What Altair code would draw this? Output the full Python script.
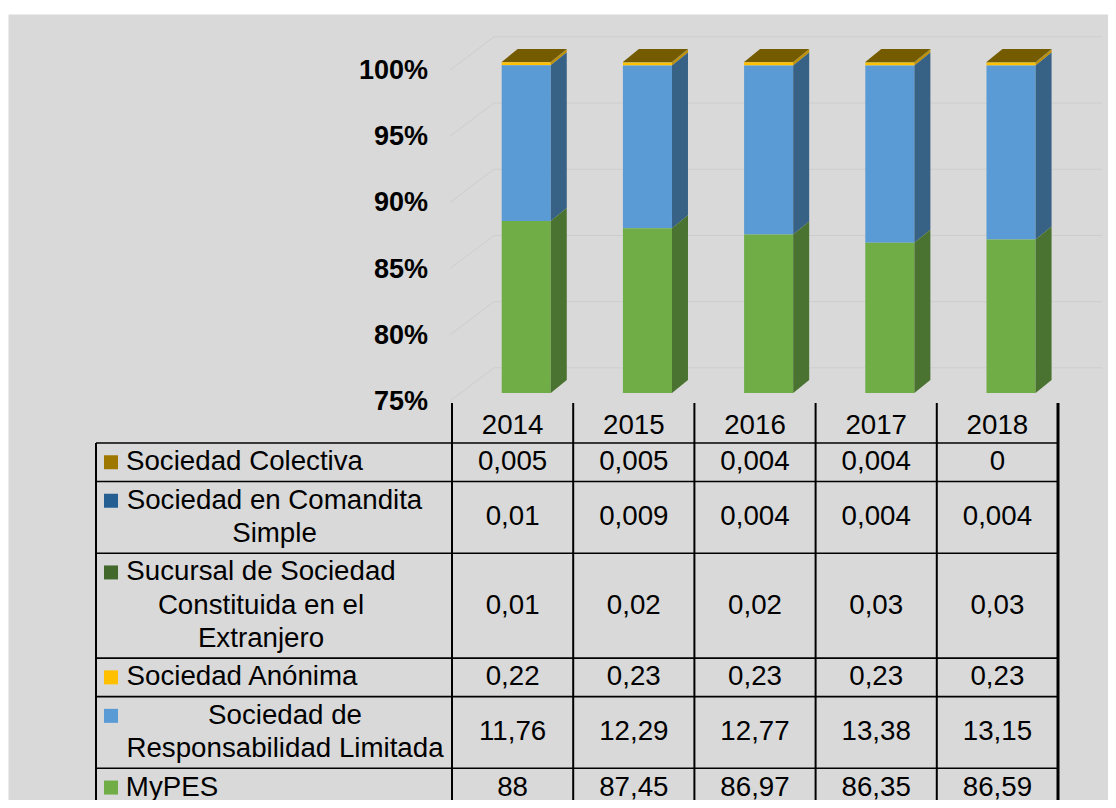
import altair as alt
import pandas as pd

# ---------------- data ----------------
YEARS = ["2014", "2015", "2016", "2017", "2018"]
SERIES = [
    "Sociedad Colectiva",
    "Sociedad en Comandita Simple",
    "Sucursal de Sociedad Constituida en el Extranjero",
    "Sociedad Anónima",
    "Sociedad de Responsabilidad Limitada",
    "MyPES",
]
LABELS = [
    "Sociedad Colectiva",
    "Sociedad en Comandita\nSimple",
    "Sucursal de Sociedad\nConstituida en el\nExtranjero",
    "Sociedad Anónima",
    "Sociedad de\nResponsabilidad Limitada",
    "MyPES",
]
COLECTIVA = [0.005, 0.005, 0.004, 0.004, 0]
COMANDITA = [0.01, 0.009, 0.004, 0.004, 0.004]
SUCURSAL = [0.01, 0.02, 0.02, 0.03, 0.03]
ANONIMA = [0.22, 0.23, 0.23, 0.23, 0.23]
SRL = [11.76, 12.29, 12.77, 13.38, 13.15]
MYPES = [88, 87.45, 86.97, 86.35, 86.59]
VALUES = [COLECTIVA, COMANDITA, SUCURSAL, ANONIMA, SRL, MYPES]
TICKS = [75, 80, 85, 90, 95, 100]

# ---------------- styles ----------------
FONT = "Liberation Sans"
FRONT_COLORS = ["#9e7700", "#255e91", "#43682b", "#ffc000", "#5b9bd5", "#70ad47"]
SIDE_COLORS = ["#6e5300", "#1a4266", "#2f491e", "#bf9000", "#386186", "#4a7230"]
TOP_COLOR = "#745b00"
GRID_COLOR = "#cdcdcd"
BG = "#d9d9d9"

# ---------------- layout ----------------
W, H = 1100, 786
LEFT, TOP = 8, 14
COL0, COLW = 452, 121.2


def u(px):
    return (px - COL0) / COLW


X_SCALE = alt.Scale(domain=[u(LEFT), u(LEFT + W)], nice=False, zero=False)
PX_PER_PCT = 331 / 25
BAR_TOP_PX = 62
D1 = 100 + (BAR_TOP_PX - TOP) / PX_PER_PCT
D0 = D1 - H / PX_PER_PCT
BAR_Y = alt.Scale(domain=[D0, D1], nice=False, zero=False)
TAB_Y = alt.Scale(domain=[TOP + H, TOP], nice=False, zero=False)

FRONT_L, FRONT_R, DEPTH = 0.41, 0.815, 0.132
DY = 13 / PX_PER_PCT
GRID_X = [u(450), u(494), u(1102)]
GRID_DY = [-0.6, 1.9, 1.9]

HEADER_TOP, HEADER_BOTTOM = 403, 443
PAD, LINE_H = 5.3, 33.2
TABLE_LEFT = 96
LABEL_CX = [244.5, 274.5, 261, 242, 285, 172]
MARKER_X = 111
FS = 27.7
FS_AXIS = 27

# ---------------- bar table ----------------
rows = []
for t, (s, vals) in enumerate(zip(SERIES, VALUES)):
    for i, (yr, v) in enumerate(zip(YEARS, vals)):
        rows.append({"year": yr, "yi": i, "series": s, "order": len(SERIES) - 1 - t, "value": v})
bars = pd.DataFrame(rows)

base = alt.Chart(bars).transform_stack(
    stack="value",
    groupby=["year"],
    sort=[alt.SortField(field="order", order="ascending")],
    offset="normalize",
    as_=["s0", "s1"],
).transform_calculate(
    lo="max(datum.s0 * 100, 75)",
    hi="max(datum.s1 * 100, 75)",
    xl=f"datum.yi + {FRONT_L}",
    xr=f"datum.yi + {FRONT_R}",
    key="datum.year + '|' + datum.series",
)

front = base.mark_rect().encode(
    x=alt.X("xl:Q", scale=X_SCALE, axis=None),
    x2="xr:Q",
    y=alt.Y("lo:Q", scale=BAR_Y, axis=None),
    y2="hi:Q",
    color=alt.Color("series:N", scale=alt.Scale(domain=SERIES, range=FRONT_COLORS), legend=None),
)

side = base.transform_calculate(p="[0, 1]").transform_flatten(["p"]).transform_calculate(
    xs=f"datum.yi + {FRONT_R} + datum.p * {DEPTH}",
    ys0=f"datum.lo + datum.p * {DY}",
    ys1=f"datum.hi + datum.p * {DY}",
).mark_area(orient="vertical").encode(
    x=alt.X("xs:Q", scale=X_SCALE, axis=None),
    y=alt.Y("ys0:Q", scale=BAR_Y, axis=None, stack=None),
    y2="ys1:Q",
    detail="key:N",
    color=alt.Color("series:N", scale=alt.Scale(domain=SERIES, range=SIDE_COLORS), legend=None),
)

topface = base.transform_filter(f"datum.order == {len(SERIES) - 1}").transform_calculate(
    p="[0, 1]"
).transform_flatten(["p"]).transform_calculate(
    yt=f"datum.hi + datum.p * {DY}",
    xt0=f"datum.yi + {FRONT_L} + datum.p * {DEPTH}",
    xt1=f"datum.yi + {FRONT_R} + datum.p * {DEPTH}",
).mark_area(orient="horizontal", color=TOP_COLOR).encode(
    y=alt.Y("yt:Q", scale=BAR_Y, axis=None),
    x=alt.X("xt0:Q", scale=X_SCALE, axis=None, stack=None),
    x2="xt1:Q",
    detail="year:N",
)

ticks_df = pd.DataFrame({"v": TICKS})
grid = alt.Chart(ticks_df).transform_calculate(p="[0, 1, 2]").transform_flatten(["p"]).transform_calculate(
    gx=f"[{GRID_X[0]}, {GRID_X[1]}, {GRID_X[2]}][datum.p]",
    gy=f"datum.v + [{GRID_DY[0]}, {GRID_DY[1]}, {GRID_DY[2]}][datum.p]",
).mark_line(color=GRID_COLOR, strokeWidth=1).encode(
    x=alt.X("gx:Q", scale=X_SCALE, axis=None),
    y=alt.Y("gy:Q", scale=BAR_Y, axis=None),
    detail="v:N",
    order="p:Q",
)

ylab = alt.Chart(ticks_df).transform_calculate(
    lab="datum.v + '%'", lx=str(u(428))
).mark_text(align="right", baseline="middle", font=FONT, fontSize=FS_AXIS, fontWeight="bold", color="black", dy=9).encode(
    x=alt.X("lx:Q", scale=X_SCALE, axis=None),
    y=alt.Y("v:Q", scale=BAR_Y, axis=None),
    text="lab:N",
)

# ---------------- data table ----------------
row_tops, row_bots = [], []
y = HEADER_BOTTOM
for lab in LABELS:
    n = lab.count("\n") + 1
    row_tops.append(y)
    y = y + PAD + LINE_H * n
    row_bots.append(y)

rowdf = pd.DataFrame({
    "series": SERIES,
    "label": LABELS,
    "cy": [(a + b) / 2 for a, b in zip(row_tops, row_bots)],
    "my": [(a + b) / 2 - (lab.count("\n")) * LINE_H / 2 for a, b, lab in zip(row_tops, row_bots, LABELS)],
    "lx": [u(c) for c in LABEL_CX],
    "mx": [u(MARKER_X)] * len(SERIES),
})

labels = alt.Chart(rowdf).mark_text(
    align="center", baseline="middle", font=FONT, fontSize=FS, color="black", lineBreak="\n", lineHeight=LINE_H
).encode(
    x=alt.X("lx:Q", scale=X_SCALE, axis=None),
    y=alt.Y("my:Q", scale=TAB_Y, axis=None),
    text="label:N",
)

markers = alt.Chart(rowdf).mark_square(size=196, opacity=1).encode(
    x=alt.X("mx:Q", scale=X_SCALE, axis=None),
    y=alt.Y("my:Q", scale=TAB_Y, axis=None),
    color=alt.Color("series:N", scale=alt.Scale(domain=SERIES, range=FRONT_COLORS), legend=None),
)

cells = bars.merge(rowdf[["series", "cy"]], on="series")
cells["xc"] = cells["yi"] + 0.5
values_txt = alt.Chart(cells).transform_calculate(
    txt="replace(toString(datum.value), '.', ',')"
).mark_text(align="center", baseline="middle", font=FONT, fontSize=FS, color="black").encode(
    x=alt.X("xc:Q", scale=X_SCALE, axis=None),
    y=alt.Y("cy:Q", scale=TAB_Y, axis=None),
    text="txt:N",
)

header = pd.DataFrame({"year": YEARS, "xc": [i + 0.5 for i in range(len(YEARS))], "cy": [426] * len(YEARS)})
header_txt = alt.Chart(header).mark_text(
    align="center", baseline="middle", font=FONT, fontSize=FS, color="black"
).encode(
    x=alt.X("xc:Q", scale=X_SCALE, axis=None),
    y=alt.Y("cy:Q", scale=TAB_Y, axis=None),
    text="year:N",
)

hl = pd.DataFrame({"y": [HEADER_BOTTOM] + row_bots, "x0": u(TABLE_LEFT), "x1": float(len(YEARS))})
hlines = alt.Chart(hl).mark_rule(color="black", strokeWidth=1.6).encode(
    x=alt.X("x0:Q", scale=X_SCALE, axis=None),
    x2="x1:Q",
    y=alt.Y("y:Q", scale=TAB_Y, axis=None),
)

vl = pd.DataFrame({
    "x": [u(TABLE_LEFT)] + [float(i) for i in range(len(YEARS))],
    "y0": [HEADER_BOTTOM] + [HEADER_TOP] * len(YEARS),
    "y1": [TOP + H] * (len(YEARS) + 1),
})
vlines = alt.Chart(vl).mark_rule(color="black", strokeWidth=2).encode(
    x=alt.X("x:Q", scale=X_SCALE, axis=None),
    y=alt.Y("y0:Q", scale=TAB_Y, axis=None),
    y2="y1:Q",
)
vr = pd.DataFrame({"x": [float(len(YEARS))], "y0": [HEADER_TOP], "y1": [TOP + H]})
vright = alt.Chart(vr).mark_rule(color="black", strokeWidth=3).encode(
    x=alt.X("x:Q", scale=X_SCALE, axis=None),
    y=alt.Y("y0:Q", scale=TAB_Y, axis=None),
    y2="y1:Q",
)

chart = alt.layer(
    grid, front, side, topface, ylab, hlines, vlines, vright, header_txt, labels, markers, values_txt
).resolve_scale(y="independent", color="independent").properties(
    width=W,
    height=H,
    padding={"left": 0, "top": 6, "right": 0, "bottom": 0},
    autosize=alt.AutoSizeParams(type="none"),
    background="white",
).configure_view(fill=BG, stroke="transparent")

chart.save("out.html", embed_options={"renderer": "svg", "actions": False})
